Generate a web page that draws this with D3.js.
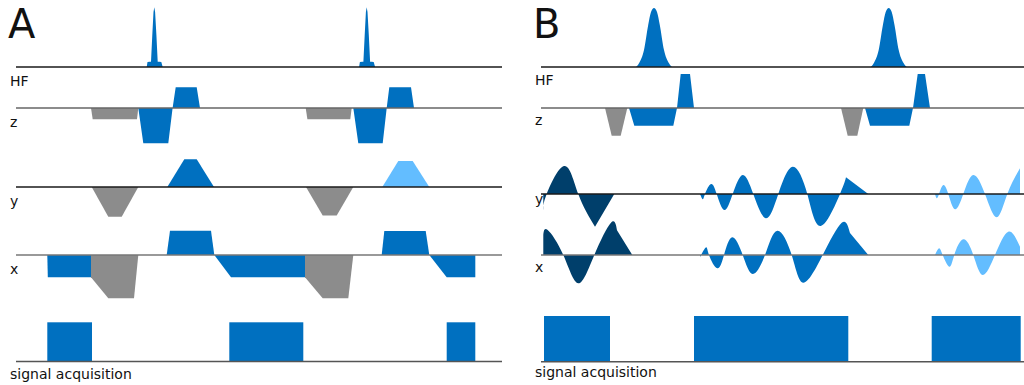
<!DOCTYPE html>
<html>
<head>
<meta charset="utf-8">
<script src="https://cdn.jsdelivr.net/npm/d3@7"></script>
<style>
  body { margin: 0; background: #fff; }
  text { font-family: "DejaVu Sans", sans-serif; fill: #111; }
</style>
</head>
<body>
<svg id="chart" width="1024" height="385"></svg>
<script>
// time in ms, amplitudes in a.u.; kind picks the colour
const rowNames = ["HF", "z", "y", "x", "signal acquisition"];
const panelNames = ["A", "B"];

// ---- panel A: cartesian readout ----
const aRfShape = [[-0.76,0],[-0.68,2.5],[-0.45,2.65],[-0.33,2.65],[-0.2,16],[-0.08,27.5],[0,29.85],
  [0.08,27.5],[0.21,16],[0.34,2.65],[0.5,2.65],[0.7,2.5],[0.84,0]];
const aRfCenters = [13.83, 35.07];

const aGz = [
  {kind: "prep", pts: [[7.5,0],[7.67,-5.65],[12.1,-5.65],[12.23,0]]},
  {kind: "main", pts: [[12.23,0],[12.73,-17.65],[15.23,-17.65],[15.66,0],[15.97,10.35],[18.07,10.35],[18.4,0]]},
  {kind: "prep", pts: [[28.97,0],[29.14,-5.65],[33.43,-5.65],[33.57,0]]},
  {kind: "main", pts: [[33.73,0],[34.23,-17.65],[36.67,-17.65],[37.07,0],[37.33,10.35],[39.5,10.35],[39.8,0]]}
];
const aGy = [
  {kind: "prep", pts: [[7.57,0],[9.23,-14.85],[10.57,-14.85],[12.23,0]]},
  {kind: "main", pts: [[15.13,0],[16.83,13.85],[18.07,13.85],[19.8,0]]},
  {kind: "prep", pts: [[29,0],[30.67,-14.3],[32.07,-14.3],[33.73,0]]},
  {kind: "next", pts: [[36.63,0],[38.23,13],[39.67,13],[41.33,0]]}
];
const aGx = [
  {kind: "main", pts: [[3.13,0],[3.18,-11.15],[7.5,-11.15],[7.5,0]]},
  {kind: "prep", pts: [[7.5,-11.15],[9.23,-21.65],[11.8,-21.65],[12.23,0]]},
  {kind: "main", pts: [[15.07,0],[15.4,12.15],[19.5,12.15],[19.83,0]]},
  {kind: "main", pts: [[19.83,0],[21.5,-11.15],[28.9,-11.15],[28.9,0]]},
  {kind: "prep", pts: [[28.9,-11.15],[30.67,-21.65],[33.23,-21.65],[33.73,0]]},
  {kind: "main", pts: [[36.57,0],[36.83,12],[40.97,12],[41.33,0]]},
  {kind: "main", pts: [[41.33,0],[43.07,-11.15],[45.93,-11.15],[45.93,0]]}
];
const aAdc = [[3.13, 7.6], [21.33, 28.73], [43.07, 45.93]];

// ---- panel B: spiral readout ----
const bRfShape = [[-1.8,0],[-1.5,1.85],[-1.0,8.5],[-0.58,21],[-0.3,27.5],[0,29.5],
  [0.3,27.5],[0.58,21],[1.0,8.5],[1.5,1.85],[1.8,0]];
const bRfCenters = [11.3, 34.77];

const bGz = [
  {kind: "prep", pts: [[6.4,0],[7.07,-13.85],[7.97,-13.85],[8.63,0]]},
  {kind: "main", pts: [[8.8,0],[9.33,-8.85],[13.23,-8.85],[13.6,0],[13.97,17],[14.9,17],[15.3,0]]},
  {kind: "prep", pts: [[30,0],[30.67,-13.85],[31.63,-13.85],[32.23,0]]},
  {kind: "main", pts: [[32.4,0],[32.9,-8.85],[36.83,-8.85],[37.2,0],[37.67,17],[38.4,17],[38.9,0]]}
];
// spiral lobes: extrema and zero crossings, ramp segments are straight
const bGy = [
  {kind: "first", wave: [[0.23,-8],[0.57,0],[2.33,14],[3.73,0],[5.4,-16.35]], ramp: [[7.33,0]]},
  {kind: "main", wave: [[15.9,0],[16.17,-2.65],[16.4,0],[17.0,5],[17.57,0],[18.33,-8],[19.17,0],[20.17,9.5],
    [21.23,0],[22.5,-12.15],[23.73,0],[25.17,13.65],[26.63,0],[27.97,-16],[29.9,0],[30.5,8.35]], ramp: [[32.73,0]]},
  {kind: "next", wave: [[39.4,0],[39.57,-2.15],[39.8,0],[40.23,4.5],[40.73,0],[41.4,-7.65],[42.23,0],[43.23,9.5],
    [44.4,0],[45.57,-11.65],[46.63,0],[47.9,12.85]], ramp: []}
];
const bGx = [
  {kind: "first", wave: [[0.23,10],[0.67,12.5],[2.23,0],[3.73,-14.15],[5.33,0],[7.0,16.15],[7.6,12.4]], ramp: [[9.13,0]]},
  {kind: "main", wave: [[15.9,-1],[16.5,3.85],[16.8,0],[17.63,-6.65],[18.3,0],[19.13,8.85],[20.17,0],[21.17,-9.5],
    [22.4,0],[23.63,12.15],[25.07,0],[26.23,-13.85],[28.17,0],[30.07,16.15],[30.9,11]], ramp: [[32.73,0]]},
  {kind: "next", wave: [[39.4,0],[39.8,3.35],[40.17,0],[40.83,-5.85],[41.33,0],[42.23,7.85],[43.23,0],[44.17,-10],
    [45.4,0],[46.73,11.65],[47.9,4.15]], ramp: []}
];
const bAdc = [[0.3, 6.9], [15.3, 30.73], [39.07, 47.97]];

const color = d3.scaleOrdinal()
  .domain(["main", "prep", "next", "first"])
  .range(["#0070c0", "#8c8c8c", "#63bdff", "#003f6b"]);

const svg = d3.select("#chart");

const panels = [
  {name: panelNames[0], tMax: 48.6, x0: 16, x1: 502, labelX: 10,
   base: [67, 108, 187, 255, 361.5], labelY: [86, 127, 206, 274, 379], adcH: 39.2,
   rf: {shape: aRfShape, centers: aRfCenters, curve: d3.curveLinear},
   grads: [aGz, aGy, aGx], adc: aAdc},
  {name: panelNames[1], tMax: 48.3, x0: 541, x1: 1024, labelX: 535,
   base: [67, 108, 194, 255, 361.7], labelY: [85, 125, 204, 272, 377], adcH: 45.7,
   rf: {shape: bRfShape, centers: bRfCenters, curve: d3.curveMonotoneX},
   grads: [bGz, bGy, bGx], adc: bAdc}
];
const lineColors = ["#1a1a1a", "#666", "#1a1a1a", "#777", "#555"];

panels.forEach(p => {
  const x = d3.scaleLinear().domain([0, p.tMax]).range([p.x0, p.x1]);
  const yRow = i => d3.scaleLinear().domain([0, 1]).range([p.base[i], p.base[i] - 2]);
  const g = svg.append("g");

  // RF pulses
  const yRf = yRow(0);
  const rfArea = d3.area().x(d => x(d[0])).y0(yRf(0)).y1(d => yRf(d[1])).curve(p.rf.curve);
  g.selectAll(".rf").data(p.rf.centers).join("path")
    .attr("d", c => rfArea(p.rf.shape.map(d => [c + d[0], d[1]])))
    .attr("fill", color("main"));

  // gradient channels
  p.grads.forEach((lobes, k) => {
    const y = yRow(k + 1);
    const lin = d3.area().x(d => x(d[0])).y0(y(0)).y1(d => y(d[1]));
    const smooth = d3.area().x(d => x(d[0])).y0(y(0)).y1(d => y(d[1])).curve(d3.curveNatural);
    g.selectAll(null).data(lobes).join("path")
      .attr("d", d => {
        if (d.pts) return lin(d.pts);
        const w = d.wave, last = w[w.length - 1];
        let s = smooth(w);
        if (d.ramp.length) s += lin([last].concat(d.ramp));
        return s;
      })
      .attr("fill", d => color(d.kind));
  });

  // acquisition windows
  const yAdc = d3.scaleLinear().domain([0, 1]).range([p.base[4], p.base[4] - p.adcH]);
  g.selectAll(null).data(p.adc).join("rect")
    .attr("x", d => x(d[0]))
    .attr("width", d => x(d[1]) - x(d[0]))
    .attr("y", yAdc(1))
    .attr("height", yAdc(0) - yAdc(1))
    .attr("fill", color("main"));

  // baselines
  g.selectAll(null).data(p.base).join("line")
    .attr("x1", x(0)).attr("x2", x(p.tMax))
    .attr("y1", d => d).attr("y2", d => d)
    .attr("stroke", (d, i) => lineColors[i])
    .attr("stroke-width", 1.5);

  // labels
  g.selectAll(null).data(rowNames).join("text")
    .attr("x", p.labelX)
    .attr("y", (d, i) => p.labelY[i])
    .attr("font-size", 14)
    .text(d => d);

  g.append("text")
    .attr("x", p.labelX - 2)
    .attr("y", 38.3)
    .attr("font-size", 40)
    .text(p.name);
});
</script>
</body>
</html>
